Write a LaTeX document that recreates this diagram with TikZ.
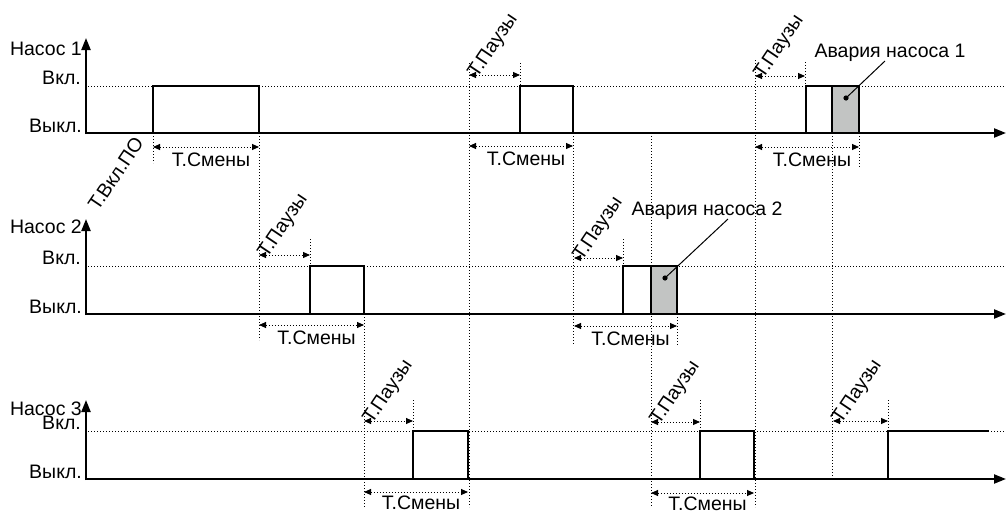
\documentclass[tikz,border=0pt]{standalone}
\usepackage{fontspec}
\setmainfont{Liberation Sans}
\usetikzlibrary{arrows.meta}
\definecolor{faultgray}{RGB}{194,196,195}
\tikzset{
  axis/.style={line width=2.2pt,-{Triangle[length=12pt,width=9pt]}},
  pulse/.style={line width=1.8pt},
  guide/.style={line width=0.9pt,dash pattern=on 1pt off 2pt},
  dim/.style={guide,{Triangle[length=7pt,width=6pt]}-{Triangle[length=7pt,width=6pt]}},
  lbl/.style={font=\fontsize{19.5}{21}\selectfont,inner sep=0pt},
  tilt/.style={lbl,rotate=56,anchor=base west},
}
\begin{document}
\begin{tikzpicture}[x=1pt,y=-1pt]
  \useasboundingbox (0,0) rectangle (1007,514);
  % axes and levels of the three pumps
  \foreach \r/\b/\h/\t/\n in {1/133/86/38/55, 2/314/266/219/233, 3/479/431/400/415} {
    \draw[guide] (88,\h) -- (1005,\h);
    \draw[axis] (85,\b) -- (1006,\b);
    \draw[axis] (86,\b+1) -- (86,\t);
    \node[lbl,anchor=base east] (pump\r) at (82,\n) {Насос \r};
    \node[lbl,anchor=base east] (on\r) at (81,\h-2) {Вкл.};
    \node[lbl,anchor=base east] (off\r) at (82,\b-1) {Выкл.};
  }
  % guide lines
  \draw[guide] (153,133) -- (153,163);
  \draw[guide] (259,133) -- (259,340);
  \draw[guide] (469,63) -- (469,507);
  \draw[guide] (520,63) -- (520,86);
  \draw[guide] (573,133) -- (573,345);
  \draw[guide] (651,133) -- (651,507);
  \draw[guide] (677,314) -- (677,345);
  \draw[guide] (755,60) -- (755,507);
  \draw[guide] (805,62) -- (805,86);
  \draw[guide] (832,133) -- (832,479);
  \draw[guide] (859,133) -- (859,168);
  \draw[guide] (310,239) -- (310,266);
  \draw[guide] (623,239) -- (623,266);
  \draw[guide] (364,314) -- (364,507);
  \draw[guide] (413,400) -- (413,431);
  \draw[guide] (700,400) -- (700,431);
  \draw[guide] (888,400) -- (888,431);
  % pump 1
  \draw[pulse] (153,86) rectangle (259,133);
  \draw[pulse] (520,86) rectangle (573,133);
  \draw[pulse,fill=white] (806,86) rectangle (832,133);
  \draw[pulse,fill=faultgray] (832,86) rectangle (859,133);
  % pump 2
  \draw[pulse] (310,266) rectangle (364,314);
  \draw[pulse,fill=white] (623,266) rectangle (651,314);
  \draw[pulse,fill=faultgray] (651,266) rectangle (677,314);
  % pump 3
  \draw[pulse] (413,431) rectangle (468,479);
  \draw[pulse] (700,431) rectangle (754,479);
  \draw[pulse] (888,479) -- (888,431) -- (989,431);
  % change times
  \draw[dim] (153,147) -- (259,147) node[lbl,midway,below=5pt,xshift=5pt] (shift1a) {Т.Смены};
  \draw[dim] (469,146) -- (573,146) node[lbl,midway,below=5pt,xshift=5pt] (shift1b) {Т.Смены};
  \draw[dim] (755,147) -- (859,147) node[lbl,midway,below=5pt,xshift=5pt] (shift1c) {Т.Смены};
  \draw[dim] (259,325) -- (364,325) node[lbl,midway,below=5pt,xshift=5pt] (shift2a) {Т.Смены};
  \draw[dim] (574,326) -- (677,326) node[lbl,midway,below=5pt,xshift=5pt] (shift2b) {Т.Смены};
  \draw[dim] (364,492) -- (468,492) node[lbl,midway,below=3pt,xshift=5pt] (shift3a) {Т.Смены};
  \draw[dim] (651,493) -- (754,493) node[lbl,midway,below=3pt,xshift=5pt] (shift3b) {Т.Смены};
  % pause times
  \draw[dim] (469,75) -- (520,75);
  \draw[dim] (755,76) -- (805,76);
  \draw[dim] (259,255) -- (310,255);
  \draw[dim] (574,258) -- (623,258);
  \draw[dim] (364,421) -- (413,421);
  \draw[dim] (651,422) -- (700,422);
  \draw[dim] (833,421) -- (888,421);
  \node[tilt] (pause1b) at (477,79) {Т.Паузы};
  \node[tilt] (pause1c) at (763,80) {Т.Паузы};
  \node[tilt] (pause2a) at (267,259) {Т.Паузы};
  \node[tilt] (pause2b) at (582,262) {Т.Паузы};
  \node[tilt] (pause3a) at (372,425) {Т.Паузы};
  \node[tilt] (pause3b) at (659,426) {Т.Паузы};
  \node[tilt] (pause3c) at (841,425) {Т.Паузы};
  \node[tilt] (startdelay) at (98,212) {Т.Вкл.ПО};
  % faults
  \node[lbl] (fault1) at (890,53) {Авария насоса 1};
  \coordinate (fault1dot) at (846,98);
  \fill (fault1dot) circle (2.6);
  \draw[line width=1pt] (fault1dot) -- (885,61);
  \node[lbl] (fault2) at (707,211) {Авария насоса 2};
  \coordinate (fault2dot) at (665,278);
  \fill (fault2dot) circle (2.6);
  \draw[line width=1pt] (fault2dot) -- (728,219);
\end{tikzpicture}
\end{document}
